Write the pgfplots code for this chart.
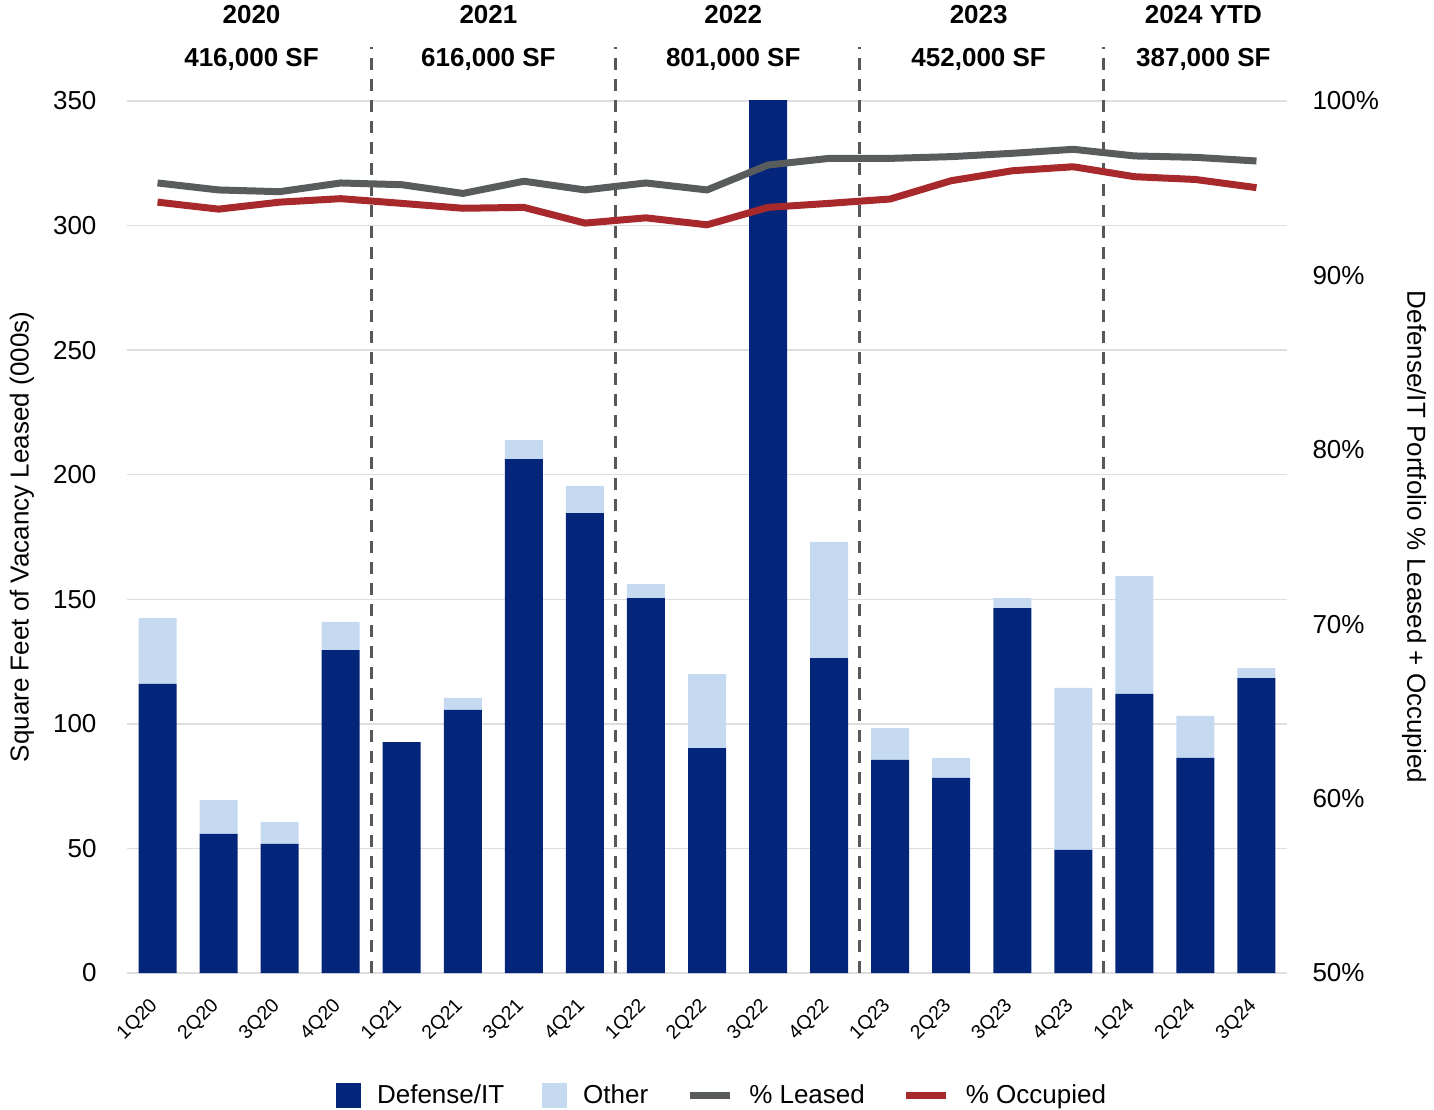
\documentclass[border=0pt]{standalone}
\usepackage{fontspec}
\setmainfont{Liberation Sans}
\usepackage{pgfplots}
\pgfplotsset{compat=1.18}
\usepackage{pgfplotstable}

\definecolor{defblue}{RGB}{3,37,122}
\definecolor{otherblue}{RGB}{197,217,241}
\definecolor{leasedgray}{RGB}{88,92,93}
\definecolor{occred}{RGB}{168,41,44}
\definecolor{gridgray}{RGB}{222,222,222}
\definecolor{sepgray}{RGB}{88,88,88}

\newcommand{\lblfont}{\fontsize{26}{31}\selectfont}
\newcommand{\tickfont}{\fontsize{19.5}{22}\selectfont}

% quarter  defense/IT  other  %leased  %occupied
\pgfplotstableread{
x  q     def    other  leased  occ
0  1Q20  116.0  26.5   95.30   94.20
1  2Q20  55.8   13.6   94.90   93.80
2  3Q20  51.8   8.8    94.80   94.20
3  4Q20  129.6  11.3   95.30   94.40
4  1Q21  92.7   0.0    95.20   94.13
5  2Q21  105.6  4.8    94.70   93.85
6  3Q21  206.3  7.6    95.40   93.90
7  4Q21  184.6  10.9   94.90   93.00
8  1Q22  150.5  5.6    95.30   93.30
9  2Q22  90.3   29.7   94.90   92.90
10 3Q22  352.0  0.0    96.33   93.90
11 4Q22  126.4  46.6   96.71   94.13
12 1Q23  85.5   12.8   96.71   94.38
13 2Q23  78.3   8.0    96.81   95.43
14 3Q23  146.5  4.0    97.00   96.00
15 4Q23  49.4   65.0   97.23   96.23
16 1Q24  112.0  47.3   96.85   95.66
17 2Q24  86.3   16.9   96.77   95.50
18 3Q24  118.4  4.0    96.56   95.03
}\datatable

\begin{document}
\begin{tikzpicture}
\useasboundingbox (-127pt,-136pt) rectangle (1307pt,973pt);

% left axis: stacked bars of square feet leased
\begin{axis}[
  scale only axis, width=1160pt, height=872pt,
  xmin=-0.5, xmax=18.5, ymin=0, ymax=350,
  clip mode=individual,
  ybar stacked, bar width=38pt,
  axis x line*=bottom, axis y line*=left,
  x axis line style={draw=gridgray, line width=1.5pt, -},
  y axis line style={draw=none},
  major tick length=0pt,
  ytick={0,50,...,350},
  ymajorgrids, grid style={draw=gridgray, line width=1.5pt},
  yticklabel style={font=\lblfont, xshift=-27pt},
  /pgf/number format/assume math mode=true,
  xtick={0,...,18},
  xticklabels={1Q20,2Q20,3Q20,4Q20,1Q21,2Q21,3Q21,4Q21,1Q22,2Q22,3Q22,4Q22,1Q23,2Q23,3Q23,4Q23,1Q24,2Q24,3Q24},
  xticklabel style={font=\tickfont, xshift=-9pt, yshift=-19pt, rotate=45, anchor=north east},
  every axis y label/.style={at={(axis description cs:-0.0905,0.5)}, anchor=center, rotate=90},
  ylabel={\lblfont Square Feet of Vacancy Leased (000s)},
  legend style={at={(axis description cs:0.513,-0.14)}, anchor=center, draw=none,
    font=\lblfont, legend columns=4,
    /tikz/every odd column/.append style={column sep=14pt},
    /tikz/every even column/.append style={column sep=36pt}},
]
\addplot+[fill=defblue, draw=none,
  legend image code/.code={\fill[defblue] (0pt,-12.5pt) rectangle (25pt,12.5pt);}]
  table[x=x, y=def] {\datatable};
\addlegendentry{Defense/IT}
\addplot+[fill=otherblue, draw=none,
  legend image code/.code={\fill[otherblue] (0pt,-12.5pt) rectangle (25pt,12.5pt);}]
  table[x=x, y=other] {\datatable};
\addlegendentry{Other}
\addlegendimage{legend image code/.code={\draw[leasedgray, line width=7pt] (0pt,0pt) -- (40pt,0pt);}}
\addlegendentry{\% Leased}
\addlegendimage{legend image code/.code={\draw[occred, line width=7pt] (0pt,0pt) -- (40pt,0pt);}}
\addlegendentry{\% Occupied}

% year separators
\pgfplotsinvokeforeach{3.5,7.5,11.5,15.5}{
  \draw[sepgray, line width=3.2pt, dash pattern=on 12pt off 9pt]
    (axis cs:#1,0) -- (axis cs:#1,371.5);
}
% year headers
\node[font=\bfseries\lblfont] at (axis cs:1.54,384.5) {2020};
\node[font=\bfseries\lblfont] at (axis cs:5.42,384.5) {2021};
\node[font=\bfseries\lblfont] at (axis cs:9.43,384.5) {2022};
\node[font=\bfseries\lblfont] at (axis cs:13.45,384.5) {2023};
\node[font=\bfseries\lblfont] at (axis cs:17.13,384.5) {2024 YTD};
\node[font=\bfseries\lblfont] at (axis cs:1.54,366.5) {416,000 SF};
\node[font=\bfseries\lblfont] at (axis cs:5.42,366.5) {616,000 SF};
\node[font=\bfseries\lblfont] at (axis cs:9.43,366.5) {801,000 SF};
\node[font=\bfseries\lblfont] at (axis cs:13.45,366.5) {452,000 SF};
\node[font=\bfseries\lblfont] at (axis cs:17.13,366.5) {387,000 SF};
\end{axis}

% right axis: portfolio percentages
\begin{axis}[
  scale only axis, width=1160pt, height=872pt,
  xmin=-0.5, xmax=18.5, ymin=50, ymax=100,
  axis x line=none, axis y line*=right,
  y axis line style={draw=none},
  major tick length=0pt,
  ytick={50,60,...,100},
  yticklabel={\pgfmathprintnumber{\tick}\%},
  yticklabel style={font=\lblfont, xshift=22pt},
  /pgf/number format/assume math mode=true,
  every axis y label/.style={at={(axis description cs:1.1095,0.5)}, anchor=center, rotate=-90},
  ylabel={\lblfont Defense/IT Portfolio \% Leased + Occupied},
]
\addplot[leasedgray, line width=7pt, line join=round] table[x=x, y=leased] {\datatable};
\addplot[occred, line width=7pt, line join=round] table[x=x, y=occ] {\datatable};
\end{axis}
\end{tikzpicture}
\end{document}
